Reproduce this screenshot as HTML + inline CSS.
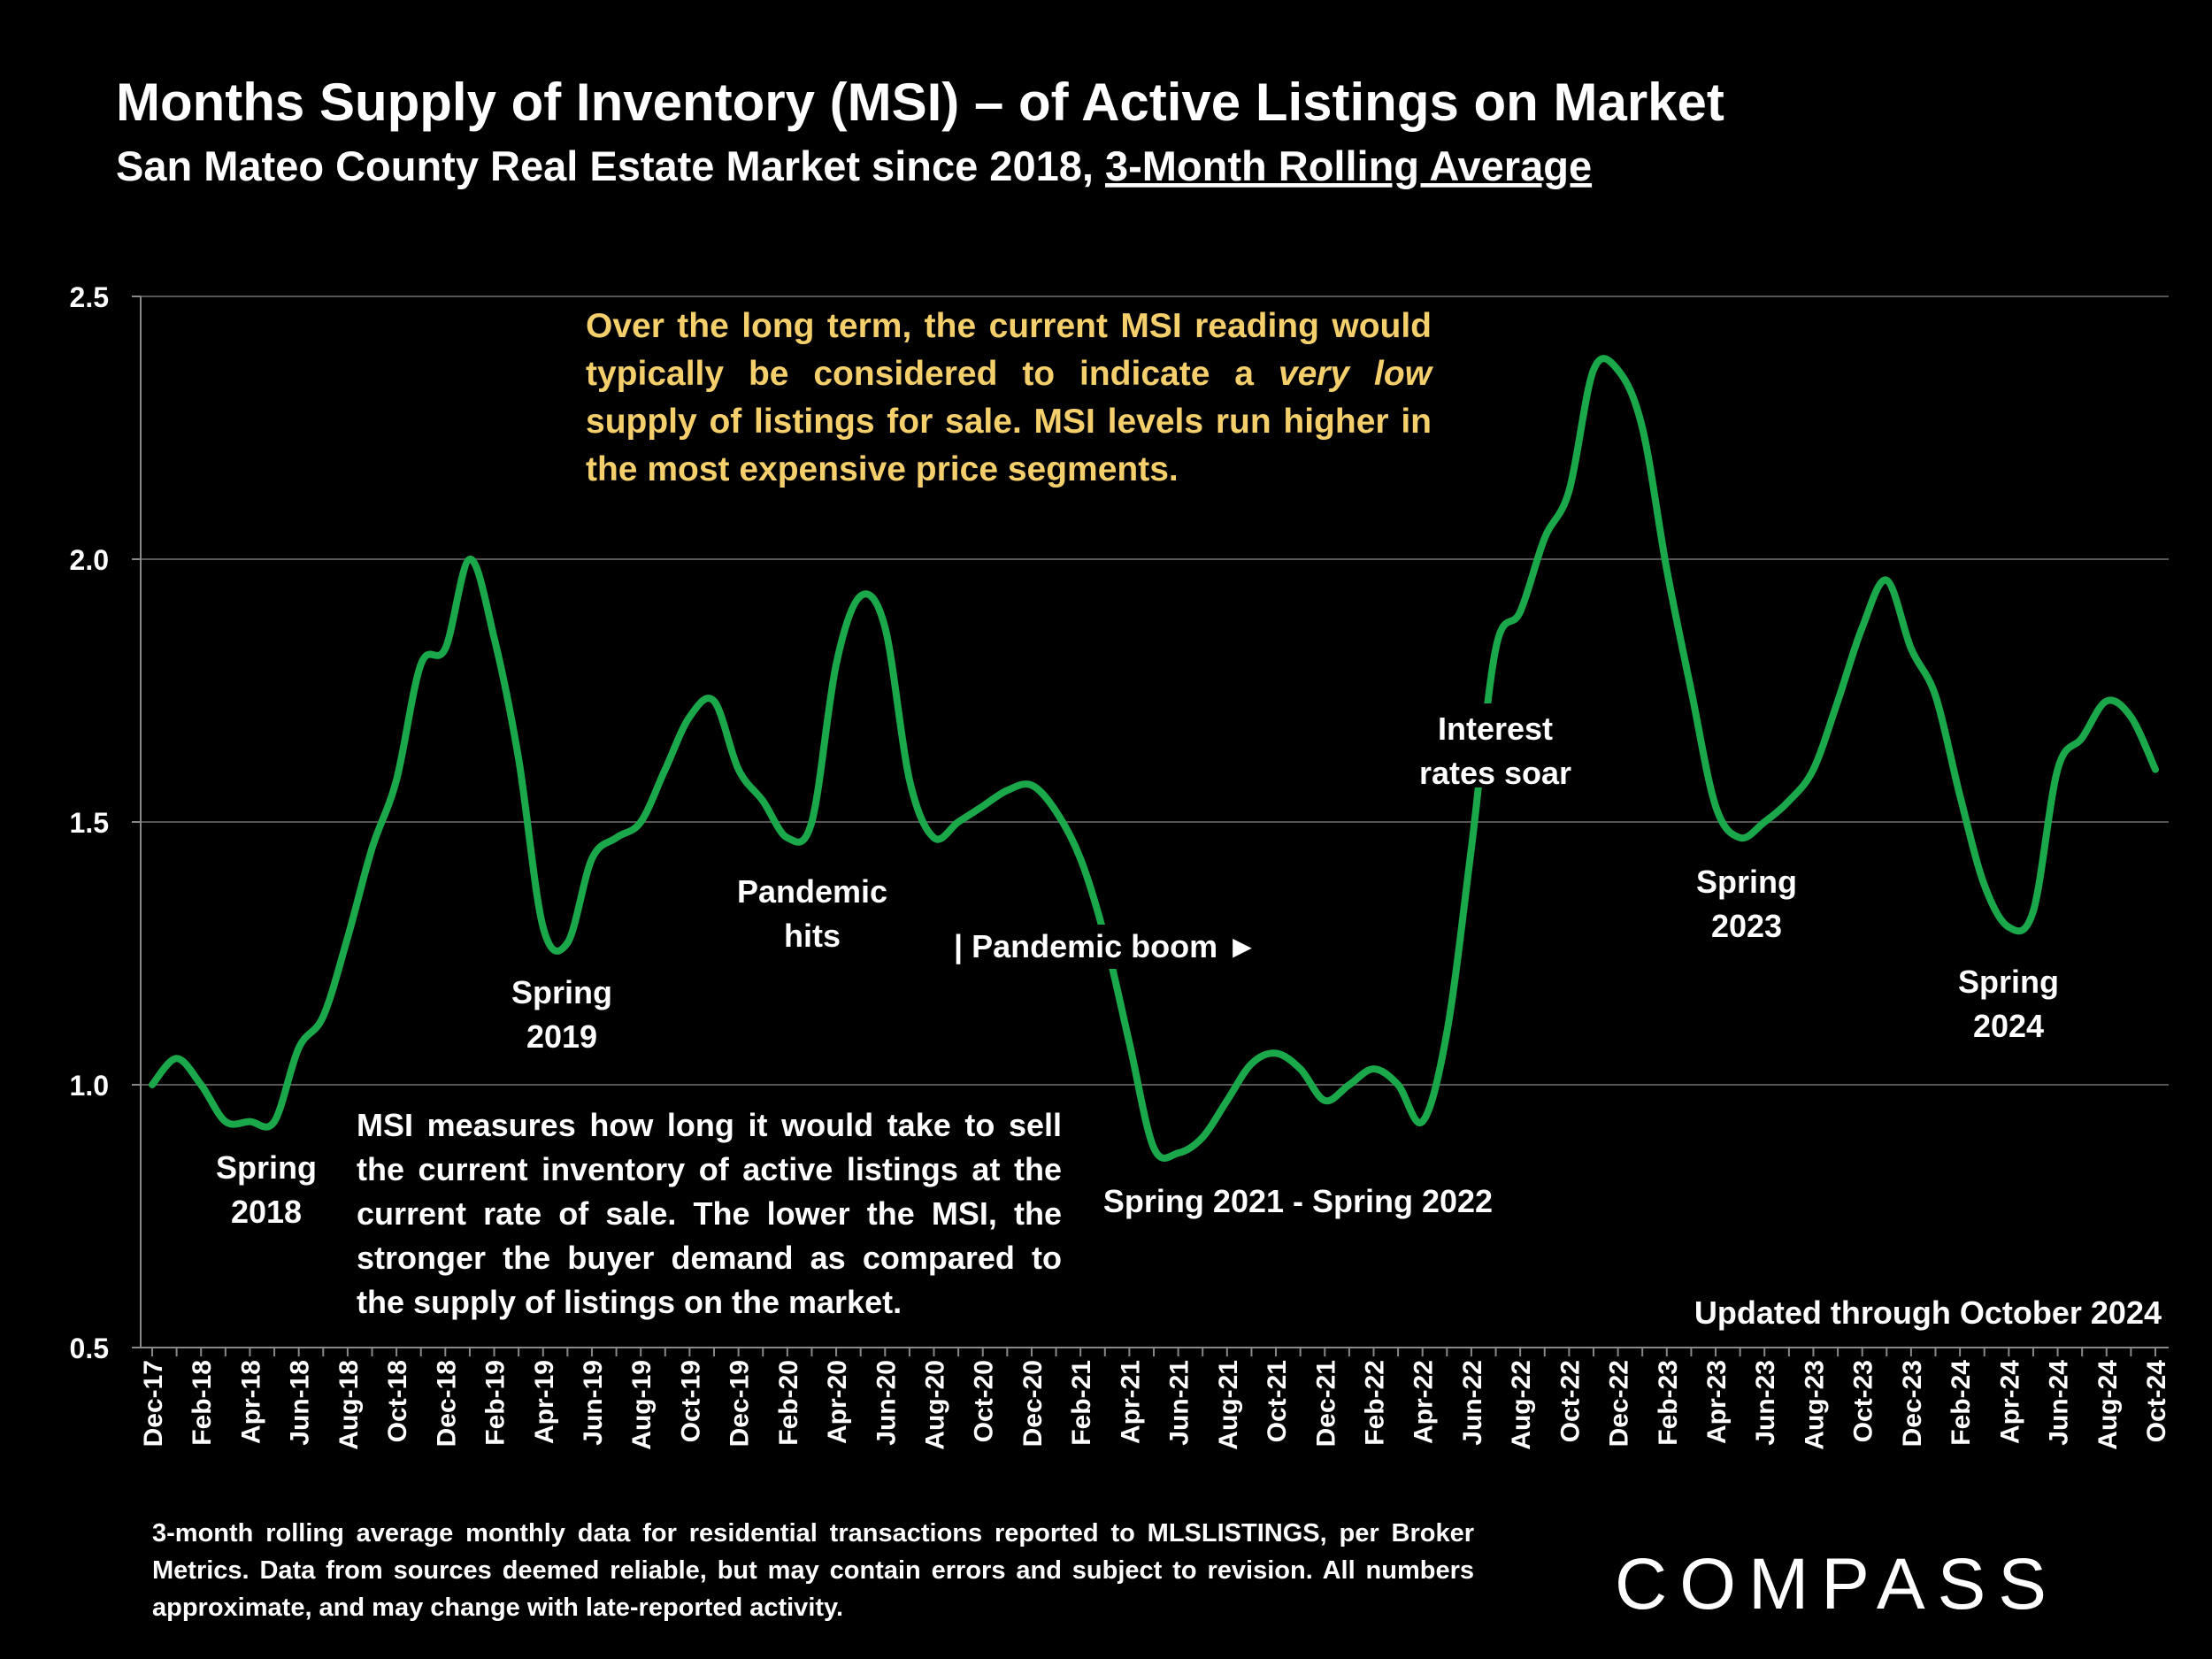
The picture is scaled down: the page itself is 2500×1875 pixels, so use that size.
<!DOCTYPE html>
<html><head><meta charset="utf-8"><style>
body{margin:0;background:#000;}
#wrap{position:relative;width:2500px;height:1875px;background:#000;overflow:hidden;font-family:"Liberation Sans",sans-serif;font-weight:bold;}
.p{position:absolute;text-align:justify;text-align-last:left;}
</style></head><body>
<div id="wrap">
<svg id="svg" width="2500" height="1875" viewBox="0 0 2500 1875" style="position:absolute;left:0;top:0">
<text x="131" y="136" fill="#fff" font-size="60" font-weight="bold" font-family="Liberation Sans, sans-serif">Months Supply of Inventory (MSI) – of Active Listings on Market</text>
<text x="131" y="204" fill="#fff" font-size="47" font-weight="bold" font-family="Liberation Sans, sans-serif">San Mateo County Real Estate Market since 2018, <tspan text-decoration="underline">3-Month Rolling Average</tspan></text>
<g id="grid"></g><g id="xaxis"></g><path id="line" fill="none" stroke="#1aa84b" stroke-width="8" stroke-linecap="round" stroke-linejoin="round"/>
<g font-family="Liberation Sans, sans-serif" font-weight="bold" font-size="36" fill="#fff" text-anchor="middle">
<text x="301" y="1332"><tspan x="301">Spring</tspan><tspan x="301" dy="50">2018</tspan></text>
<text x="635" y="1134"><tspan x="635">Spring</tspan><tspan x="635" dy="50">2019</tspan></text>
<text x="918" y="1020"><tspan x="918">Pandemic</tspan><tspan x="918" dy="50">hits</tspan></text>
<rect x="1075" y="1045" width="370" height="50" fill="#000"/>
<text x="1078" y="1082" text-anchor="start">| Pandemic boom ►</text>
<text x="1467" y="1370">Spring 2021 - Spring 2022</text>
<rect x="1600" y="795" width="180" height="95" fill="#000"/>
<text x="1690" y="836"><tspan x="1690">Interest</tspan><tspan x="1690" dy="50">rates soar</tspan></text>
<text x="1974" y="1009"><tspan x="1974">Spring</tspan><tspan x="1974" dy="50">2023</tspan></text>
<text x="2270" y="1122"><tspan x="2270">Spring</tspan><tspan x="2270" dy="50">2024</tspan></text>
<text x="2443" y="1496" text-anchor="end">Updated through October 2024</text>
</g>
<text x="2076" y="1818" fill="#fff" font-size="82" font-family="Liberation Sans, sans-serif" font-weight="normal" text-anchor="middle" letter-spacing="14">COMPASS</text>
</svg>
<div class="p" style="left:662px;top:342px;width:956px;font-size:39px;line-height:54px;color:#f5cf6b;">Over the long term, the current MSI reading would typically be considered to indicate a <i>very low</i> supply of listings for sale. MSI levels run higher in the most expensive price segments.</div>
<div class="p" style="left:403px;top:1247px;width:797px;font-size:36px;line-height:50px;color:#fff;background:#000;">MSI measures how long it would take to sell the current inventory of active listings at the current rate of sale. The lower the MSI, the stronger the buyer demand as compared to the supply of listings on the market.</div>
<div class="p" style="left:172px;top:1712px;width:1494px;font-size:29px;line-height:42px;color:#fff;font-weight:bold;">3-month rolling average monthly data for residential transactions reported to MLSLISTINGS, per Broker Metrics. Data from sources deemed reliable, but may contain errors and subject to revision. All numbers approximate, and may change with late-reported activity.</div>
</div>
<script>
const months=["Dec-17","Jan-18","Feb-18","Mar-18","Apr-18","May-18","Jun-18","Jul-18","Aug-18","Sep-18","Oct-18","Nov-18","Dec-18","Jan-19","Feb-19","Mar-19","Apr-19","May-19","Jun-19","Jul-19","Aug-19","Sep-19","Oct-19","Nov-19","Dec-19","Jan-20","Feb-20","Mar-20","Apr-20","May-20","Jun-20","Jul-20","Aug-20","Sep-20","Oct-20","Nov-20","Dec-20","Jan-21","Feb-21","Mar-21","Apr-21","May-21","Jun-21","Jul-21","Aug-21","Sep-21","Oct-21","Nov-21","Dec-21","Jan-22","Feb-22","Mar-22","Apr-22","May-22","Jun-22","Jul-22","Aug-22","Sep-22","Oct-22","Nov-22","Dec-22","Jan-23","Feb-23","Mar-23","Apr-23","May-23","Jun-23","Jul-23","Aug-23","Sep-23","Oct-23","Nov-23","Dec-23","Jan-24","Feb-24","Mar-24","Apr-24","May-24","Jun-24","Jul-24","Aug-24","Sep-24","Oct-24"];
const msi=[1.0,1.05,1.0,0.93,0.93,0.93,1.07,1.13,1.28,1.45,1.58,1.80,1.83,2.0,1.85,1.62,1.30,1.27,1.43,1.47,1.50,1.60,1.70,1.73,1.60,1.54,1.47,1.50,1.80,1.93,1.87,1.58,1.47,1.50,1.53,1.56,1.57,1.52,1.43,1.28,1.08,0.88,0.87,0.90,0.97,1.04,1.06,1.03,0.97,1.00,1.03,1.00,0.93,1.10,1.45,1.83,1.90,2.04,2.13,2.36,2.36,2.25,1.98,1.75,1.53,1.47,1.50,1.54,1.60,1.73,1.87,1.96,1.83,1.74,1.55,1.38,1.30,1.33,1.60,1.66,1.73,1.70,1.60];
const yTicks=[0.5,1.0,1.5,2.0,2.5];
const NS="http://www.w3.org/2000/svg";
const L=159,R=2451,T=335,B=1523,x0=172,x1=2436;
const y=v=>B-(v-0.5)/2*(B-T);
const x=i=>x0+i*(x1-x0)/(months.length-1);
const grid=document.getElementById('grid');
function mk(tag,attrs,parent){const e=document.createElementNS(NS,tag);for(const k in attrs)e.setAttribute(k,attrs[k]);parent.appendChild(e);return e;}
yTicks.forEach(v=>{
 const gl=mk('line',{x1:L,x2:R,y1:y(v),y2:y(v),stroke:v===0.5?'#888':'#555','stroke-width':2},grid);
 
 
 mk('line',{x1:L-10,x2:L,y1:y(v),y2:y(v),stroke:'#888','stroke-width':2},grid);
 const t=mk('text',{x:123,y:y(v)+12,fill:'#fff','font-size':32,'font-weight':'bold','font-family':'Liberation Sans, sans-serif','text-anchor':'end'},grid);
 t.textContent=v.toFixed(1);
 
 
});
mk('line',{x1:L,x2:L,y1:T,y2:B,stroke:'#888','stroke-width':2},grid);
const xa=document.getElementById('xaxis');
months.forEach((m,i)=>{
 mk('line',{x1:x(i),x2:x(i),y1:B,y2:B+10,stroke:'#888','stroke-width':2},xa);
 if(i%2===0){
  const t=mk('text',{transform:`translate(${x(i)+11},${B+14}) rotate(-90)`,fill:'#fff','font-size':30,'font-weight':'bold','font-family':'Liberation Sans, sans-serif','text-anchor':'end'},xa);
  t.textContent=m;
  
  
 }
});
const pts=msi.map((v,i)=>[x(i),y(v)]);
let d=`M${pts[0][0]},${pts[0][1]}`;
for(let i=0;i<pts.length-1;i++){
 const p0=pts[Math.max(0,i-1)],p1=pts[i],p2=pts[i+1],p3=pts[Math.min(pts.length-1,i+2)];
 const c1=[p1[0]+(p2[0]-p0[0])/6,p1[1]+(p2[1]-p0[1])/6],c2=[p2[0]-(p3[0]-p1[0])/6,p2[1]-(p3[1]-p1[1])/6];
 d+=` C${c1[0]},${c1[1]} ${c2[0]},${c2[1]} ${p2[0]},${p2[1]}`;
}
document.getElementById('line').setAttribute('d',d);
</script>
</body></html>
